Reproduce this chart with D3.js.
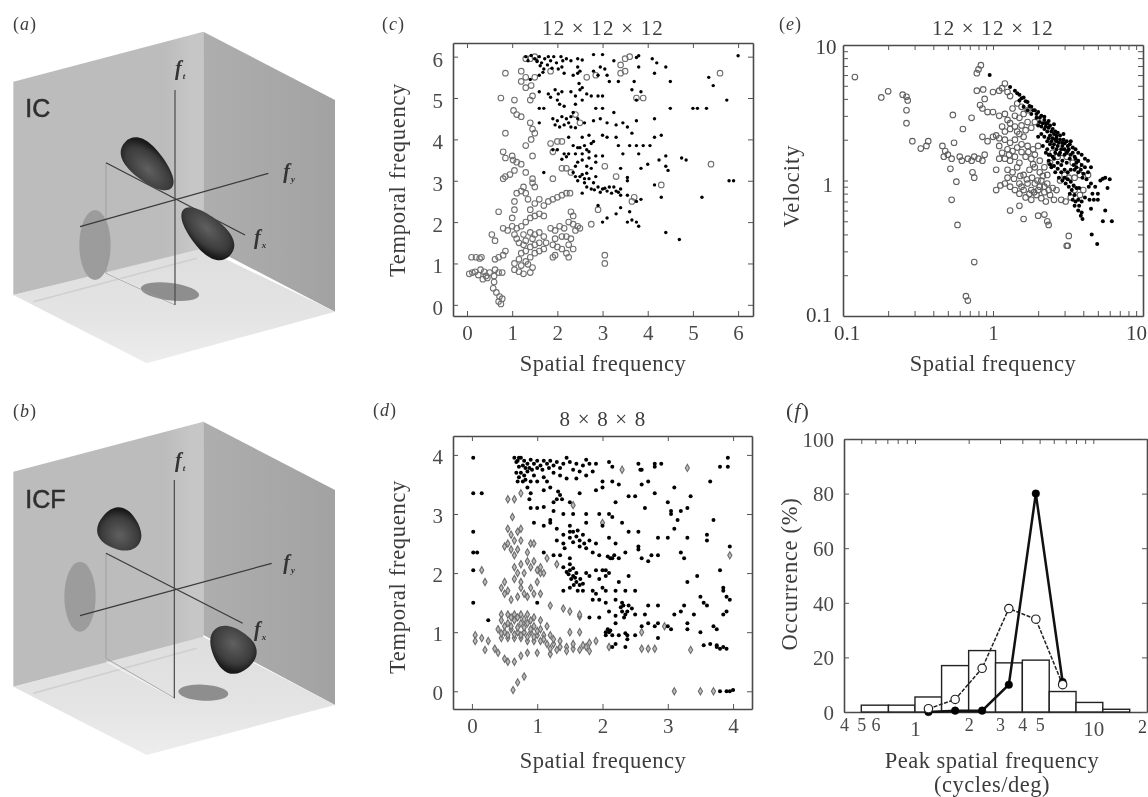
<!DOCTYPE html>
<html>
<head>
<meta charset="utf-8">
<script src="https://cdn.jsdelivr.net/npm/d3@7"></script>
<style>
  html, body { margin: 0; padding: 0; background: #fff; overflow: hidden; }
  svg { display: block; filter: blur(0.65px); }
  text { font-family: "Liberation Serif", serif; fill: #3c3c3c; }
</style>
</head>
<body>
<div id="chart"></div>
<script>
// panel (c) points: [spatial, temporal]
var cOpen = [[0.1,1.15],[0.2,1.15],[0.28,1.12],[0.32,1.15],[0.05,0.75],[0.12,0.78],[0.18,0.8],[0.25,0.72],[0.3,0.85],[0.38,0.8],[0.42,0.7],[0.35,0.62],[0.45,0.65],[0.5,0.78],[0.6,0.7],[0.62,0.85],[0.7,0.78],[0.78,0.78],[0.62,1.1],[0.7,1.15],[0.8,1.2],[0.85,1.3],[0.6,0.55],[0.58,0.4],[0.65,0.3],[0.72,0.2],[0.7,0.08],[0.75,0.02],[0.78,0.15],[0.55,1.7],[0.62,1.55],[0.7,2.25],[0.8,1.85],[0.9,1.8],[1,1.9],[1.05,1.7],[1.1,1.6],[1,2.1],[1.05,2.3],[1.05,2.5],[1.1,2.7],[1.2,2.75],[1.3,2.7],[1.25,2.85],[1.35,2.55],[1.4,2.3],[1.5,2.45],[1.6,2.55],[1.7,2.4],[1.8,2.5],[1.9,2.55],[2,2.6],[2.1,2.65],[2.2,2.7],[2.28,2.7],[1.5,2.15],[1.6,2.2],[1.4,2.1],[1.3,2],[1.7,2.15],[1.2,1.9],[1.1,1.85],[1.25,1.7],[1.3,1.55],[1.4,1.75],[1.5,1.7],[1.6,1.75],[1.7,1.65],[1.75,1.5],[1.6,1.5],[1.5,1.45],[1.4,1.4],[1.3,1.3],[1.2,1.25],[1.15,1.1],[1.05,1],[1.2,0.95],[1.3,1.05],[1.4,1.15],[1.5,1.25],[1.6,1.3],[1.7,1.35],[1.05,0.85],[1.15,0.8],[1.25,0.75],[1.4,0.78],[1.45,0.9],[1.35,0.98],[1.25,1.45],[1.15,1.5],[1.45,1.6],[1.85,1.85],[1.95,1.8],[2.05,1.9],[2.15,1.85],[2.25,2],[2.35,1.95],[2.4,1.8],[2.45,1.9],[2.5,1.85],[2.35,2.15],[2.3,2.25],[2.2,1.65],[2.3,1.6],[2.1,1.65],[1.95,1.6],[1.9,1.45],[2,1.4],[2.1,1.35],[2.25,1.45],[2.35,1.35],[2.2,1.25],[2.25,1.15],[1.95,1.2],[1.9,1.15],[3.05,1.2],[3.05,1],[0.8,3.05],[0.85,3.1],[0.95,3.15],[1.05,3.25],[1.1,3.45],[1.2,3.4],[1.3,3.2],[1.45,3.05],[1.45,2.95],[1.5,2.85],[0.8,3.7],[0.85,3.55],[1,3.6],[1.02,3.5],[0.85,4.15],[1.45,3.6],[0.75,5],[1.05,4.95],[1.03,4.7],[1.1,4.6],[1.2,4.55],[1.4,4.95],[1.45,5.05],[0.85,5.6],[1.2,5.65],[1.3,5.5],[1.2,5.4],[1.3,5.25],[1.42,5.3],[1.5,5.5],[1.3,5.95],[1.4,5.95],[1.5,6],[1.4,4.4],[1.45,4.25],[1.5,4.15],[1.42,4],[1.3,3.85],[1.85,3.9],[1.9,3.7],[2,3.95],[2.1,3.95],[2.2,3.3],[2.1,3.3],[1.9,3.05],[2.3,3.2],[2.4,4.6],[2.5,4.4],[3.05,3.35],[3.3,3.1],[4.3,2.9],[3.65,2.5],[3.7,2.6],[2.75,1.95],[2.9,2.3],[3.4,5.8],[3.5,5.95],[3.6,6],[3.4,5.6],[3.5,5.65],[5.4,3.4],[5.6,5.6],[3.75,5],[3.9,5],[2.65,5.5],[2.85,5.55],[1.85,5.65]];
var cDots = [[1.3,6],[1.35,5.9],[1.42,6.03],[1.5,5.95],[1.55,5.88],[1.6,6],[1.65,5.85],[1.72,5.95],[1.78,5.8],[1.85,5.9],[1.92,6],[1.98,5.85],[2.02,5.7],[2.08,6],[2.12,5.9],[2.2,5.95],[2.3,5.9],[2.45,5.95],[2.55,5.92],[2.8,6.05],[3,6.05],[3.75,5.98],[3.8,6.02],[4.1,5.95],[4.2,5.85],[3.25,5.9],[2.45,5.6],[2.45,5.75],[2.15,5.6],[2.35,5.55],[1.6,5.55],[1.4,5.45],[1.7,5.7],[2.8,5.65],[2.9,5.55],[3.05,5.7],[3.1,5.55],[3.15,5.4],[3.35,5.4],[3.8,5.75],[4.15,5.6],[4.4,5.75],[4.5,5.4],[3.7,5.4],[3.85,5.15],[3.75,4.95],[3.65,5.2],[1.6,5.15],[1.8,5.1],[1.85,5.02],[1.95,5.2],[2.02,5.1],[2.1,5.15],[2,4.95],[2.05,4.85],[2.3,5.15],[2.4,5.05],[2.5,5.2],[2.55,4.95],[2.65,5.1],[2.75,5.05],[2.9,5.05],[3,5.05],[1.6,4.75],[1.7,4.75],[2.15,4.8],[2.4,4.85],[2.85,4.75],[3,4.75],[3.25,4.65],[4.5,4.75],[5.0,4.75],[5.1,4.75],[5.3,4.75],[5.75,4.95],[5.45,5.3],[5.35,5.5],[6,6.02],[2,4.45],[2.1,4.55],[1.95,4.35],[2.05,4.3],[2.15,4.35],[2.25,4.4],[2.3,4.55],[2.35,4.65],[2.45,4.5],[2.6,4.4],[2.8,4.45],[2.95,4.5],[3.1,4.4],[3.3,4.35],[3.45,4.4],[3.55,4.3],[3.65,4.15],[3.75,4.45],[4.15,4.5],[1.6,4.4],[2.25,4.05],[2.55,4.05],[2.7,4.1],[2.75,3.9],[2.8,3.95],[3,4.1],[3.1,4.05],[3.3,4.05],[3.35,3.85],[3.6,3.85],[3.75,3.85],[3.9,3.85],[4.05,3.85],[4.15,4.05],[4.3,4.1],[2.35,3.85],[2.45,3.8],[2.6,3.85],[1.9,3.75],[2,3.75],[2.15,3.65],[2.25,3.65],[2.4,3.65],[2.55,3.5],[2.7,3.55],[2.85,3.6],[3,3.6],[3.45,3.65],[3.8,3.65],[4.25,3.5],[4.4,3.6],[4.75,3.55],[4.85,3.5],[2.65,3.35],[2.75,3.3],[2.85,3.45],[3.4,3.3],[3.85,3.3],[4,3.4],[4.4,3.35],[4.45,3.25],[1.7,3.2],[2.35,3.2],[2.4,3.1],[2.45,3],[2.55,3.15],[2.6,2.95],[2.65,2.85],[2.7,3.05],[2.8,2.95],[2.85,3.1],[2.9,2.85],[3,2.8],[3.1,2.75],[3.15,2.85],[3.2,2.7],[3.3,2.75],[3.4,2.8],[3.4,2.65],[3.55,3],[3.55,3.08],[4.15,2.9],[5.8,3],[5.9,3],[3.55,2.65],[3.85,2.55],[3.75,2.5],[4.3,2.6],[5.2,2.6],[2.9,2.4],[3.4,2.35],[3.6,2.25],[3.3,2.2],[3.1,2.1],[3,2],[3.55,2],[3.65,2.05],[3.75,2],[3.8,1.9],[4.4,1.75],[4.7,1.58],[2.55,2.7],[2.45,3.45],[1.55,5.9],[1.62,5.78],[1.8,6],[1.88,5.72],[2.1,5.75],[1.68,5.62],[2.5,5.65],[2.55,5.25],[2.48,5.35],[2.95,5.75],[2.3,4.3],[2.4,4.28],[2.2,4.5],[1.9,4.5],[2.5,3.8],[2.65,3.75],[2.55,3.65],[2.7,3.7],[2.1,3.52],[2.2,3.58],[2.4,3.35],[2.5,3.1],[2.6,3.05],[2.75,2.8],[2.82,2.78],[2.95,2.72],[3.05,2.82],[3.25,2.85],[3.35,2.72],[2.65,3.18]];

// panel (e) points: [spatial, velocity]
var eOpen = [[0.12,5.8],[0.18,4.1],[0.2,4.55],[0.25,4.3],[0.265,4.15],[0.27,3.9],[0.265,3.3],[0.265,2.65],[0.29,1.95],[0.33,1.72],[0.36,1.8],[0.37,1.95],[0.46,1.8],[0.48,1.65],[0.5,1.55],[0.55,1.9],[0.47,1.5],[0.53,1.45],[0.6,1.5],[0.62,1.4],[0.68,1.45],[0.72,1.4],[0.75,1.5],[0.8,1.45],[0.85,1.4],[0.88,1.55],[0.52,1.22],[0.73,1.15],[0.75,1.05],[0.57,0.98],[0.53,0.72],[0.58,0.47],[0.75,0.25],[0.66,0.14],[0.68,0.13],[0.54,3.05],[0.72,2.9],[0.63,2.4],[0.8,6.6],[0.83,7.1],[0.78,6.2],[0.78,4.6],[0.86,4.7],[0.88,4],[0.82,3.6],[0.85,3.4],[0.92,3.2],[1.0,4.5],[1.1,4.6],[1.2,5.2],[1.15,4.8],[1.25,4.5],[1,3.2],[1.1,3],[1.2,3.1],[1.25,2.8],[1.35,3.4],[1.4,3],[1.5,2.9],[1.6,3.1],[1.7,2.7],[1.15,2.5],[1.2,2.3],[1.3,2.4],[1.4,2.5],[0.85,2.1],[0.92,1.95],[1.0,2.1],[1.05,2.15],[1.1,2.05],[1.2,2],[1.3,1.9],[1.4,2],[1.5,2.2],[1.6,2.1],[1.1,1.8],[1.15,1.6],[1.25,1.7],[1.35,1.65],[1.45,1.75],[1.55,1.85],[1.7,1.8],[1.85,1.7],[2,1.8],[1.2,1.45],[1.3,1.4],[1.4,1.5],[1.5,1.35],[1.65,1.5],[1.8,1.45],[1.9,1.55],[2.05,1.4],[1.05,1.2],[1.25,1.2],[1.35,1.15],[1.45,1.25],[1.6,1.1],[1.75,1.2],[1.9,1.25],[2.05,1.15],[2.2,1.25],[2.4,1.35],[2.5,1.6],[2.7,1.5],[2.9,1.6],[3.1,1.5],[3.4,1.35],[3.7,1.3],[1.05,0.85],[1.2,0.95],[1.3,0.9],[1.4,0.85],[1.5,0.95],[1.6,0.85],[1.7,0.95],[1.8,0.85],[1.9,0.95],[2,0.85],[2.1,1],[2.2,0.9],[2.3,0.95],[1.5,0.8],[1.65,0.75],[1.8,0.72],[1.95,0.78],[2.1,0.74],[2.25,0.7],[2.4,0.78],[2.55,0.72],[2.85,0.72],[3.05,0.7],[3.3,0.75],[3.5,0.85],[3.8,0.78],[4,0.85],[4.3,1.1],[1.3,0.6],[1.5,0.65],[1.6,0.52],[2,0.55],[2.2,0.56],[2.3,0.5],[2.35,0.47],[3.2,0.39],[3.1,0.33],[3.15,0.33],[2.8,1],[3,1.1],[3.2,1.05],[3.5,1.05],[3.8,1.1],[1.3,4.2],[1.45,3.7],[1.55,3.5],[1.7,3.3],[1.3,2.65],[1.45,2.3],[1.55,2.55],[1.65,2.35],[1.8,2.45],[1.9,2.7],[1.1,1.45],[1.28,1.55],[1.55,1.62],[1.72,1.62],[1.85,1.32],[1.38,1.03],[1.52,1.08],[1.68,1.02],[1.82,1.05],[1.98,1],[2.15,1.08],[2.3,1.1],[1.55,0.9],[1.75,0.8],[1.88,0.82],[2.05,0.9],[2.2,0.82],[2.35,0.85],[2.5,0.88],[2.65,0.85],[1.25,1.05],[1.12,0.92]];
var eDots = [[0.95,6],[1.3,4.9],[1.4,4.6],[1.5,4.3],[1.6,4.1],[1.7,3.8],[1.8,3.5],[1.9,3.3],[2,3.2],[2.1,3],[2.2,2.8],[2.3,2.65],[2.4,2.55],[2.5,2.4],[2.6,2.3],[2.7,2.25],[2.8,2.15],[2.95,2],[3.1,1.95],[3.25,1.85],[3.4,1.75],[3.55,1.7],[3.7,1.6],[3.9,1.55],[4.1,1.45],[4.3,1.4],[4.5,1.25],[1.5,3.9],[1.6,3.5],[1.7,3.3],[1.8,3.1],[1.95,2.9],[2.05,2.7],[2.1,2.5],[2.2,2.4],[2.3,2.3],[2.4,2.15],[2.5,2.05],[2.6,2],[2.75,1.9],[2.9,1.8],[3,1.7],[3.15,1.65],[3.3,1.55],[3.5,1.5],[3.7,1.4],[3.9,1.3],[4.1,1.25],[4.3,1.15],[2,2.55],[2.1,2.2],[2.2,2.1],[2.3,1.95],[2.4,1.85],[2.5,1.75],[2.65,1.7],[2.8,1.6],[2,2.1],[2.15,1.8],[2.3,1.7],[2.4,1.55],[2.55,1.45],[2.7,1.35],[2.85,1.3],[3,1.2],[3.15,1.15],[3.3,1.2],[3.5,1.2],[3.7,1.15],[3.95,1.05],[2.35,1.4],[2.45,1.25],[2.6,1.15],[2.75,1.05],[2.9,1],[3.05,0.95],[3.2,0.9],[3.35,0.85],[3.5,0.78],[3.7,0.72],[3.9,0.7],[4.1,0.75],[4.4,0.72],[4.7,0.72],[5,0.72],[3.5,0.65],[3.7,0.6],[3.85,0.55],[3.95,0.52],[3.9,0.58],[4.5,0.62],[5.2,1],[5.4,1.03],[5.6,1.05],[6,1.02],[5.8,0.88],[5.6,0.6],[5.4,0.5],[6.2,0.5],[4.55,0.4],[4.95,0.34],[3.2,1.7],[3.6,1.35],[3.1,1.35],[4.5,0.95],[4.8,0.9],[5,0.8],[2.55,2.6],[2.95,2.2],[3.3,1.95],[1.85,3.3],[1.65,3.85],[2.25,2.5],[2.65,2.15],[2.05,2.9],[2.15,2.65],[2.25,2.65],[2.35,2.45],[2.45,2.3],[2.55,2.2],[2.65,2.05],[2.8,2],[2.9,1.9],[3,1.88],[3.15,1.8],[2.35,2.05],[2.45,1.95],[2.55,1.85],[2.7,1.8],[2.85,1.7],[3,1.55],[3.1,1.6],[3.25,1.45],[3.4,1.6],[3.55,1.45],[3.45,1.3],[2.25,1.6],[2.35,1.55],[2.5,1.5],[2.6,1.6],[2.75,1.55],[2.9,1.4],[2.4,1.32],[2.55,1.28],[2.7,1.22],[2.85,1.15],[3,1.05],[3.15,1.02],[3.3,0.98],[3.45,0.92],[3.6,0.88],[3.75,0.88],[3.25,0.8],[3.4,0.72],[3.55,0.7],[3.75,0.65],[2.65,1.95],[2.2,2.95],[2.35,2.75],[1.95,3.1],[1.75,3.55],[1.55,4.05],[1.45,4.4],[4,1.12],[4.2,1.02],[4.35,0.9],[4.6,0.8],[3.6,1.25],[3.85,1.2]];

// panel (d) points: [spatial, temporal]
var dOpen = [[0.55,3.25],[0.65,3.25],[0.62,2.95],[0.55,2.75],[0.6,2.65],[0.7,2.7],[0.75,2.75],[0.65,2.55],[0.55,2.5],[0.5,2.45],[0.6,2.4],[0.7,2.4],[0.65,2.3],[0.75,2.55],[0.9,2.5],[0.95,2.5],[0.85,2.2],[0.9,2.1],[1,2.05],[1.05,2],[1.1,2],[0.8,2],[0.7,2],[0.65,1.9],[0.75,1.85],[0.5,1.85],[0.45,1.75],[0.5,1.65],[0.55,1.7],[0.75,1.75],[0.8,1.65],[0.85,1.6],[0.95,1.65],[1.05,1.65],[0.15,2.05],[0.2,1.85],[1.2,1.45],[1.4,1.4],[1.5,1.35],[1.65,1.27],[0.45,1.3],[0.55,1.3],[0.65,1.3],[0.75,1.3],[0.85,1.3],[0.95,1.25],[1.05,1.2],[0.45,1.2],[0.55,1.15],[0.65,1.2],[0.75,1.15],[0.85,1.15],[0.95,1.1],[1.05,1.05],[1.15,1.1],[0.4,1.05],[0.5,1],[0.6,1.05],[0.7,1],[0.8,1],[0.9,1],[1,0.95],[1.1,0.95],[1.2,0.95],[0.45,0.9],[0.55,0.9],[0.65,0.9],[0.75,0.9],[0.85,0.85],[0.95,0.85],[1.05,0.85],[1.15,0.8],[1.25,0.8],[1.35,0.75],[1.45,0.75],[1.55,0.72],[1.65,0.7],[1.75,0.75],[1.8,0.82],[1.9,0.85],[0.05,0.95],[0.05,0.85],[0.15,0.9],[0.25,0.85],[0.2,0.7],[0.35,0.72],[0.4,0.65],[0.5,0.55],[0.55,0.5],[0.65,0.5],[0.75,0.6],[0.85,0.65],[1.0,0.65],[1.2,0.63],[0.7,0.15],[0.8,0.25],[0.63,0.02],[1.5,1],[1.65,1],[2.1,0.75],[2.6,0.72],[2.7,0.72],[2.8,0.72],[2.95,1.1],[2.6,1],[3.35,0.7],[3.1,0],[3.5,0],[3.7,0],[1.65,1.3],[1.55,3.15],[2,2.85],[2.3,3.75],[3.3,3.78],[3.95,2.3],[1.15,2.25],[1.3,2.15],[0.75,3.35],[0.6,1.25],[0.7,1.25],[0.8,1.22],[0.9,1.2],[0.5,1.1],[0.6,1.1],[0.7,1.08],[0.8,1.08],[0.9,1.05],[1,1.02],[0.45,0.98],[0.55,0.95],[0.65,0.96],[0.75,0.95],[0.85,0.92],[0.95,0.92],[1.1,0.88],[1.25,0.88],[1.35,0.85],[1.2,0.72],[1.3,0.7],[1.45,0.68],[1.55,0.8],[1.7,0.78],[1.8,0.68],[0.85,2.35],[0.95,2.2],[1.05,2.1],[0.75,2.15],[0.65,2.1],[0.7,1.6],[0.6,1.55],[0.9,1.75],[1,1.85]];
var dDots = [[0.02,3.95],[0.02,3.35],[0.15,3.35],[0.02,2.7],[0.02,2.35],[0.08,2.35],[0.02,2.05],[0.02,1.5],[0.25,1.2],[0.65,3.95],[0.7,3.9],[0.72,3.8],[0.68,3.7],[0.75,3.95],[0.8,3.9],[0.85,3.85],[0.9,3.92],[0.95,3.85],[1,3.9],[1.05,3.82],[1.1,3.9],[1.15,3.85],[1.2,3.9],[1.3,3.88],[1.4,3.85],[1.5,3.88],[1.6,3.85],[1.7,3.82],[1.8,3.85],[1.9,3.85],[2.1,3.88],[2.15,3.8],[0.75,3.7],[0.8,3.65],[0.85,3.72],[0.95,3.65],[1.1,3.62],[1.15,3.55],[1.25,3.7],[1.35,3.65],[1.45,3.6],[1.6,3.6],[1.75,3.65],[1.85,3.72],[2,3.55],[2.15,3.55],[2.25,3.5],[2.6,3.5],[2.7,3.55],[2.55,3.85],[2.58,3.75],[2.8,3.8],[2.9,3.85],[0.85,3.45],[0.9,3.35],[0.88,3.25],[1.1,3.4],[1.3,3.25],[1.35,3.32],[1.5,3.2],[1.65,3.35],[1.9,3.4],[2,3.45],[2.2,3.2],[2.4,3.3],[2.5,3.3],[2.8,3.35],[0.9,3.1],[1,3.1],[1.1,3.12],[1.25,3.05],[1.4,3],[1.55,3],[1.75,3],[1.95,3],[2.1,3],[2.15,2.95],[2.65,3.1],[0.95,2.85],[1.1,2.8],[1.2,2.85],[1.3,2.75],[1.5,2.8],[1.75,2.85],[2,2.8],[2.3,2.85],[2.4,2.7],[2.55,2.7],[1.4,2.65],[1.5,2.6],[1.55,2.7],[1.65,2.55],[1.7,2.65],[1.8,2.55],[1.65,2.45],[1.3,2.55],[1.4,2.5],[1.9,2.5],[2.1,2.6],[2.2,2.5],[2.55,2.45],[2.55,2.4],[2.85,2.6],[3,2.6],[1.1,2.35],[1.25,2.3],[1.35,2.3],[1.5,2.25],[1.85,2.35],[1.95,2.3],[2.15,2.25],[2.25,2.25],[2.35,2.35],[2.6,2.25],[2.85,2.3],[1.4,2.1],[1.5,2.05],[1.55,1.95],[1.6,1.85],[1.65,1.8],[1.6,2],[1.7,1.7],[1.75,2],[1.9,2.05],[2,2.05],[2.05,1.95],[2.25,1.85],[2.4,1.95],[2.7,2.2],[2.75,2.3],[1.4,1.7],[1.5,1.75],[1.85,1.7],[2,1.75],[2.2,1.7],[2.35,1.7],[2.5,1.7],[1.85,1.55],[1.95,1.55],[2.05,1.5],[2.2,1.55],[2.3,1.5],[2.4,1.45],[2.35,1.3],[2.3,1.35],[2.45,1.4],[2.7,1.45],[2.85,1.45],[2.1,1.35],[2.2,1.28],[2.5,1.3],[2.65,1.3],[1.8,1.25],[1.95,1.25],[2.2,1.15],[2.6,1.1],[2.7,1.15],[2.8,1.1],[2.85,1.15],[3,1.1],[3.05,1.05],[2.05,1],[2.1,1],[2.15,0.95],[2.25,0.95],[2.35,0.98],[2.38,0.95],[2.5,0.95],[2.85,0.9],[2.15,0.75],[2.2,0.8],[3.3,1.05],[3.7,1.1],[3.75,1.05],[3.5,1],[3.55,0.78],[3.65,0.8],[3.75,0.78],[3.85,0.75],[3.9,0.72],[3.2,1.35],[3.25,1.45],[3.4,1.3],[3.55,1.5],[3.5,1.6],[3.6,1.45],[3.85,1.7],[3.9,1.6],[3.95,1.55],[3.85,1.3],[3.9,1.35],[3.3,1.15],[3.1,1.3],[3.95,2.45],[3.8,2.05],[3.85,1.75],[3.3,1.85],[3.45,1.95],[3.25,2.25],[3.2,2.35],[3.6,2.65],[3.6,2.55],[3.7,2.9],[3.1,2.75],[3.15,2.9],[3.3,2.6],[3.05,3],[3.05,3.05],[3.2,3.05],[3.3,3.1],[3.35,3.3],[3.1,3.45],[3,3.2],[3.65,3.55],[3.8,3.8],[3.92,3.8],[3.92,3.95],[2.8,3.85],[2.6,3.75],[3.95,0],[4,0.02],[3.9,0],[3.8,0],[1,1.5],[1.2,2.9],[0.7,3.55],[0.68,3.88],[0.72,3.95],[0.78,3.82],[0.82,3.78],[0.88,3.78],[0.92,3.75],[1,3.78],[1.08,3.75],[1.18,3.78],[1.25,3.82],[1.35,3.78],[1.45,3.95],[1.55,3.75],[1.65,3.72],[1.75,3.92],[0.72,3.62],[0.78,3.55],[0.82,3.58],[0.9,3.55],[1,3.55],[1.2,3.45],[1.32,3.38],[1.38,3.25],[1.25,3.2],[1.5,2.7],[1.55,2.52],[1.6,2.62],[1.62,2.72],[1.42,2.42],[1.72,2.5],[1.75,2.42],[1.5,2.15],[1.55,2.08],[1.48,1.98],[1.52,1.9],[1.58,1.92],[1.62,1.7],[1.56,1.8],[1.66,1.9],[1.7,1.82],[1.45,2.02],[1.8,1.95],[2.05,2.05],[2.1,2],[1.95,1.9],[2.05,1.7],[1.9,1.65],[2.28,1.42],[2.32,1.45],[2.33,1.25],[2.38,1.35],[2.08,2.28],[2.12,2.25],[2.18,2.3],[2.05,0.95],[2.08,1.05],[2.12,1.03],[2.38,0.88],[2.35,0.75],[3.75,0.75],[3.8,0.72]];

// panel (f) histogram and the two tuning curves
var histEdges = [0.5, 0.71, 1, 1.41, 2, 2.83, 4, 5.66, 8, 11.3, 16];
var histValues = [2.5, 2.5, 5.5, 17, 22.5, 18, 19, 7.5, 3.5, 1];
var curveFreq = [1.19, 1.68, 2.38, 3.36, 4.76, 6.73];
var curveOpen = [1.2, 4.6, 16, 37.9, 34, 10];
var curveFilled = [0, 0.5, 0.5, 10, 80, 11];

var svg = d3.select("#chart").append("svg")
  .attr("width", 1148)
  .attr("height", 797);

var defs = svg.append("defs");

function addGradient(id, stops, x2, y2) {
  var g = defs.append("linearGradient").attr("id", id)
    .attr("x1", 0).attr("y1", 0).attr("x2", x2).attr("y2", y2);
  stops.forEach(function(s) {
    g.append("stop").attr("offset", s[0]).attr("stop-color", s[1]);
  });
}
addGradient("wallL", [[0, "#bcbcbc"], [0.8, "#bcbcbc"], [0.93, "#c6c6c6"], [1, "#c6c6c6"]], 1, 0);
addGradient("wallR", [[0, "#aeaeae"], [1, "#a2a2a2"]], 1, 0);
addGradient("floor", [[0, "#dedede"], [0.6, "#e4e4e4"], [1, "#ededed"]], 0, 1);
var blobGrad = defs.append("radialGradient").attr("id", "blob").attr("cx", 0.45).attr("cy", 0.4).attr("r", 0.6);
blobGrad.append("stop").attr("offset", 0).attr("stop-color", "#606060");
blobGrad.append("stop").attr("offset", 0.7).attr("stop-color", "#3c3c3c");
blobGrad.append("stop").attr("offset", 1).attr("stop-color", "#1a1a1a");

// the two 3D illustrations, coordinates in zoomed (3x) scene units
function drawScene(offsetY, s) {
  var sx = d3.scaleLinear().domain([0, 3]).range([0, 1]);
  var sy = d3.scaleLinear().domain([0, 3]).range([offsetY, offsetY + 1]);
  var g = svg.append("g");
  var line = d3.line().x(d => sx(d[0])).y(d => sy(d[1]));

  function poly(pts, fill) {
    g.append("path").attr("d", line(pts) + "Z").attr("fill", fill);
  }
  function seg(pts, color, w) {
    g.append("path").attr("d", line(pts)).attr("fill", "none")
      .attr("stroke", color).attr("stroke-width", w);
  }
  function ellipse(e, fill) {
    g.append("ellipse")
      .attr("transform", `translate(${sx(e[0])}, ${sy(e[1])}) rotate(${e[4]})`)
      .attr("rx", sx(e[2])).attr("ry", sx(e[3]))
      .attr("fill", fill);
  }
  // egg shape, the fat end sits at +rx
  function egg(e, fill) {
    var a = sx(e[2]), b = sx(e[3]);
    g.append("path")
      .attr("transform", `translate(${sx(e[0])}, ${sy(e[1])}) rotate(${e[4]})`)
      .attr("d", `M${-a},0 C${-a},${-b * 0.75} 0,${-b * 1.05} ${a * 0.35},${-b}
        C${a * 0.8},${-b * 0.95} ${a},${-b * 0.55} ${a},0
        C${a},${b * 0.55} ${a * 0.8},${b * 0.95} ${a * 0.35},${b}
        C0,${b * 1.05} ${-a},${b * 0.75} ${-a},0Z`)
      .attr("fill", fill);
  }
  function axisName(p, sub) {
    var t = g.append("text").attr("x", sx(p[0])).attr("y", sy(p[1]))
      .style("font-size", "20px").style("font-style", "italic").style("font-weight", "bold")
      .style("fill", "#333").text("f");
    t.append("tspan").attr("dy", 4).attr("dx", 1).style("font-size", "9px").text(sub);
  }

  poly(s.wallL, "url(#wallL)");
  poly(s.wallR, "url(#wallR)");
  poly(s.floor, "url(#floor)");
  seg(s.floorLine1, "#cfcfcf", 1.5);
  seg(s.floorLine2, "#f1f1f1", 1.5);
  ellipse(s.shadowWall, "#9c9c9c");
  ellipse(s.shadowFloor, "#8e8e8e");
  seg(s.guide, "#999", 0.8);
  seg(s.axisX, "#3a3a3a", 1.2);
  egg(s.lobes[0], "url(#blob)");
  seg(s.axisT, "#4a4a4a", 1.2);
  seg(s.axisY, "#3a3a3a", 1.2);
  egg(s.lobes[1], "url(#blob)");
  axisName(s.labelT, "t");
  axisName(s.labelY, "y");
  axisName(s.labelX, "x");
  g.append("text").attr("x", sx(s.name[0])).attr("y", sy(s.name[1]))
    .style("font-family", "'Liberation Sans', sans-serif").style("font-size", "25px")
    .style("fill", "#2e2e2e").style("stroke", "#2e2e2e").style("stroke-width", 0.5)
    .text(s.name[2]);
}

drawScene(10, {
  wallL: [[40, 215], [610, 65], [610, 720], [40, 855]],
  wallR: [[610, 65], [1005, 270], [1005, 905], [610, 700]],
  floor: [[40, 855], [610, 715], [1005, 905], [440, 1060]],
  floorLine1: [[100, 875], [590, 745]],
  floorLine2: [[320, 790], [525, 885]],
  guide: [[318, 458], [318, 790], [525, 885]],
  shadowWall: [285, 705, 47, 105, 0],
  shadowFloor: [510, 845, 88, 26, 7],
  axisT: [[525, 240], [525, 885]],
  axisY: [[240, 650], [805, 490]],
  axisX: [[318, 458], [735, 675]],
  lobes: [[445, 465, 98, 50, -135], [620, 668, 98, 50, 45]],
  labelT: [525, 195],
  labelY: [850, 505],
  labelX: [762, 703],
  name: [76, 322, "IC"]
});

drawScene(395, {
  wallL: [[40, 230], [610, 80], [610, 730], [40, 875]],
  wallR: [[610, 80], [1005, 285], [1005, 930], [610, 720]],
  floor: [[40, 875], [610, 725], [1005, 930], [440, 1080]],
  floorLine1: [[100, 895], [590, 760]],
  floorLine2: [[320, 800], [525, 910]],
  guide: [[318, 475], [318, 790], [525, 910]],
  shadowWall: [240, 605, 47, 105, 0],
  shadowFloor: [610, 893, 75, 24, 3],
  axisT: [[523, 255], [523, 910]],
  axisY: [[240, 662], [815, 505]],
  axisX: [[318, 475], [728, 685]],
  lobes: [[362, 407, 68, 60, -140], [695, 760, 76, 62, 50]],
  labelT: [525, 215],
  labelY: [850, 523],
  labelX: [762, 722],
  name: [76, 340, "ICF"]
});

// shared framed-axes helper, ticks point inward on all four sides
function frame(opts) {
  var g = svg.append("g");
  var x = opts.x, y = opts.y;

  function style(a) {
    a.selectAll("path").attr("stroke", "#4a4a4a").attr("stroke-width", 1.6);
    a.selectAll("line").attr("stroke", "#555").attr("stroke-width", 1);
    a.selectAll("text").style("font-size", "21px").style("font-family", "'Liberation Serif', serif").style("fill", "#4a4a4a");
  }

  var bottom = d3.axisBottom(x).tickValues(opts.xTicks).tickFormat(opts.xFormat)
    .tickSizeInner(-5).tickSizeOuter(0).tickPadding(9);
  var top = d3.axisTop(x).tickValues(opts.xTicks).tickFormat("")
    .tickSizeInner(-5).tickSizeOuter(0);
  var left = d3.axisLeft(y).tickValues(opts.yTicks).tickFormat(opts.yFormat)
    .tickSizeInner(-5).tickSizeOuter(0).tickPadding(10);
  var right = d3.axisRight(y).tickValues(opts.yTicks).tickFormat("")
    .tickSizeInner(-5).tickSizeOuter(0);

  var b = g.append("g").attr("transform", `translate(0, ${y.range()[0]})`).call(bottom).call(style);
  g.append("g").attr("transform", `translate(0, ${y.range()[1]})`).call(top).call(style);
  var l = g.append("g").attr("transform", `translate(${x.range()[0]}, 0)`).call(left).call(style);
  l.selectAll("text").attr("dy", opts.yDy);
  g.append("g").attr("transform", `translate(${x.range()[1]}, 0)`).call(right).call(style);
  return b;
}

function scatter(points, x, y, r, stroke, sw, fill, symbol) {
  var g = svg.append("g");
  if (symbol) {
    g.selectAll("path").data(points).enter().append("path")
      .attr("transform", d => `translate(${x(d[0])}, ${y(d[1])})`)
      .attr("d", d3.symbol().type(symbol).size(r))
      .attr("fill", fill).attr("stroke", stroke).attr("stroke-width", sw);
  } else {
    g.selectAll("circle").data(points).enter().append("circle")
      .attr("cx", d => x(d[0])).attr("cy", d => y(d[1])).attr("r", r)
      .attr("fill", fill).attr("stroke", stroke).attr("stroke-width", sw);
  }
}

function label(x, y, txt, size, spacing, rotate, anchor) {
  var t = svg.append("text").style("text-anchor", anchor || "middle")
    .style("font-size", size + "px").style("letter-spacing", spacing + "px").text(txt);
  if (rotate) {
    t.attr("transform", `translate(${x}, ${y}) rotate(-90)`);
  } else {
    t.attr("x", x).attr("y", y);
  }
  return t;
}

function panelTag(x, y, letter, size) {
  var t = svg.append("text").attr("x", x).attr("y", y)
    .style("font-size", (size || 18) + "px").style("letter-spacing", "1px").text("(");
  t.append("tspan").style("font-style", "italic").text(letter);
  t.append("tspan").text(")");
}

var integers = d3.format("d");

panelTag(13, 30, "a");
panelTag(13, 417, "b");

// panel (c)
var xC = d3.scaleLinear().domain([-0.31, 6.33]).range([453, 753]);
var yC = d3.scaleLinear().domain([-0.27, 6.33]).range([316, 43]);
frame({ x: xC, y: yC, xTicks: [0, 1, 2, 3, 4, 5, 6], yTicks: [0, 1, 2, 3, 4, 5, 6], xFormat: integers, yFormat: integers, yDy: "0.45em" });
scatter(cOpen, xC, yC, 2.8, "#707070", 1.1, "none");
scatter(cDots, xC, yC, 1.7, "#000", 0, "#000");
label(603, 35, "12 × 12 × 12", 21, 1.2);
label(603, 371, "Spatial frequency", 22.5, 0.5);
label(405, 180, "Temporal frequency", 22.5, 0.7, true);
panelTag(382, 30, "c");

// panel (e)
var xE = d3.scaleLog().domain([0.1, 10]).range([843, 1143]);
var yE = d3.scaleLog().domain([0.1, 10]).range([316, 45]);
var logTicks = [0.2, 0.3, 0.4, 0.5, 0.6, 0.7, 0.8, 0.9, 1, 2, 3, 4, 5, 6, 7, 8, 9];
var logFormat = function(d) { return d === 1 ? "1" : ""; };
frame({ x: xE, y: yE, xTicks: logTicks, yTicks: logTicks, xFormat: logFormat, yFormat: logFormat, yDy: "0.5em" });
scatter(eOpen, xE, yE, 2.8, "#606060", 1.1, "none");
scatter(eDots, xE, yE, 2, "#000", 0, "#000");
label(847, 340, "0.1", 21, 0);
label(1147, 340, "10", 21, 0, false, "end");
label(826, 54, "10", 21, 0);
label(819, 322, "0.1", 21, 0);
label(993, 35, "12 × 12 × 12", 21, 1.2);
label(993, 371, "Spatial frequency", 22.5, 0.5);
label(799, 186, "Velocity", 22.5, 1, true);
panelTag(779, 30, "e");

// panel (d)
var xD = d3.scaleLinear().domain([-0.29, 4.29]).range([453, 752]);
var yD = d3.scaleLinear().domain([-0.3, 4.32]).range([709, 436]);
frame({ x: xD, y: yD, xTicks: [0, 1, 2, 3, 4], yTicks: [0, 1, 2, 3, 4], xFormat: integers, yFormat: integers, yDy: "0.4em" });
scatter(dOpen, xD, yD, 15, "#6c6c6c", 1.1, "#bdbdbd", d3.symbolDiamond);
scatter(dDots, xD, yD, 2, "#000", 0, "#000");
label(603, 426, "8 × 8 × 8", 21, 1.2);
label(603, 768, "Spatial frequency", 22.5, 0.5);
label(405, 577, "Temporal frequency", 22.5, 0.7, true);
panelTag(373, 416, "d");

// panel (f)
var xF = d3.scaleLog().domain([0.4, 20]).range([844, 1147]);
var yF = d3.scaleLinear().domain([0, 100]).range([712, 439]);
var fTicks = [0.4, 0.5, 0.6, 0.7, 0.8, 0.9, 1, 2, 3, 4, 5, 6, 7, 8, 9, 10, 20];
var fLabels = { 0.4: "4", 0.5: "5", 0.6: "6", 1: "1", 2: "2", 3: "3", 4: "4", 5: "5", 10: "10" };
var fBottom = frame({
  x: xF, y: yF, xTicks: fTicks, yTicks: [0, 20, 40, 60, 80, 100], yDy: "0.35em",
  xFormat: function(d) { return fLabels[d] || ""; }, yFormat: integers
});
// the in-between decade labels are set smaller and a little higher
fBottom.selectAll("text").filter(d => d !== 1 && d !== 10)
  .style("font-size", "18px").attr("dy", "0.55em");

svg.append("g").selectAll("rect").data(histValues).enter().append("rect")
  .attr("x", (d, i) => xF(histEdges[i]))
  .attr("width", (d, i) => xF(histEdges[i + 1]) - xF(histEdges[i]))
  .attr("y", d => yF(d))
  .attr("height", d => yF(0) - yF(d))
  .attr("fill", "#fff").attr("stroke", "#222").attr("stroke-width", 1.4);

var curveLine = d3.line().x(d => xF(d[0])).y(d => yF(d[1]));
svg.append("path").attr("d", curveLine(d3.zip(curveFreq, curveOpen)))
  .attr("fill", "none").attr("stroke", "#222").attr("stroke-width", 1.5).attr("stroke-dasharray", "4,1.5");
svg.append("path").attr("d", curveLine(d3.zip(curveFreq, curveFilled)))
  .attr("fill", "none").attr("stroke", "#111").attr("stroke-width", 2.5);
scatter(d3.zip(curveFreq, curveFilled), xF, yF, 3.8, "#000", 0.5, "#000");
scatter(d3.zip(curveFreq, curveOpen), xF, yF, 4.2, "#222", 1.2, "#fff");

label(1147, 733, "2", 18, 0, false, "end");
label(992, 768, "Peak spatial frequency", 22.5, 0.5);
label(992, 792, "(cycles/deg)", 22.5, 0.5);
label(797, 574, "Occurrence (%)", 22.5, 0.7, true);
panelTag(786, 418, "f", 22);
</script>
</body>
</html>
